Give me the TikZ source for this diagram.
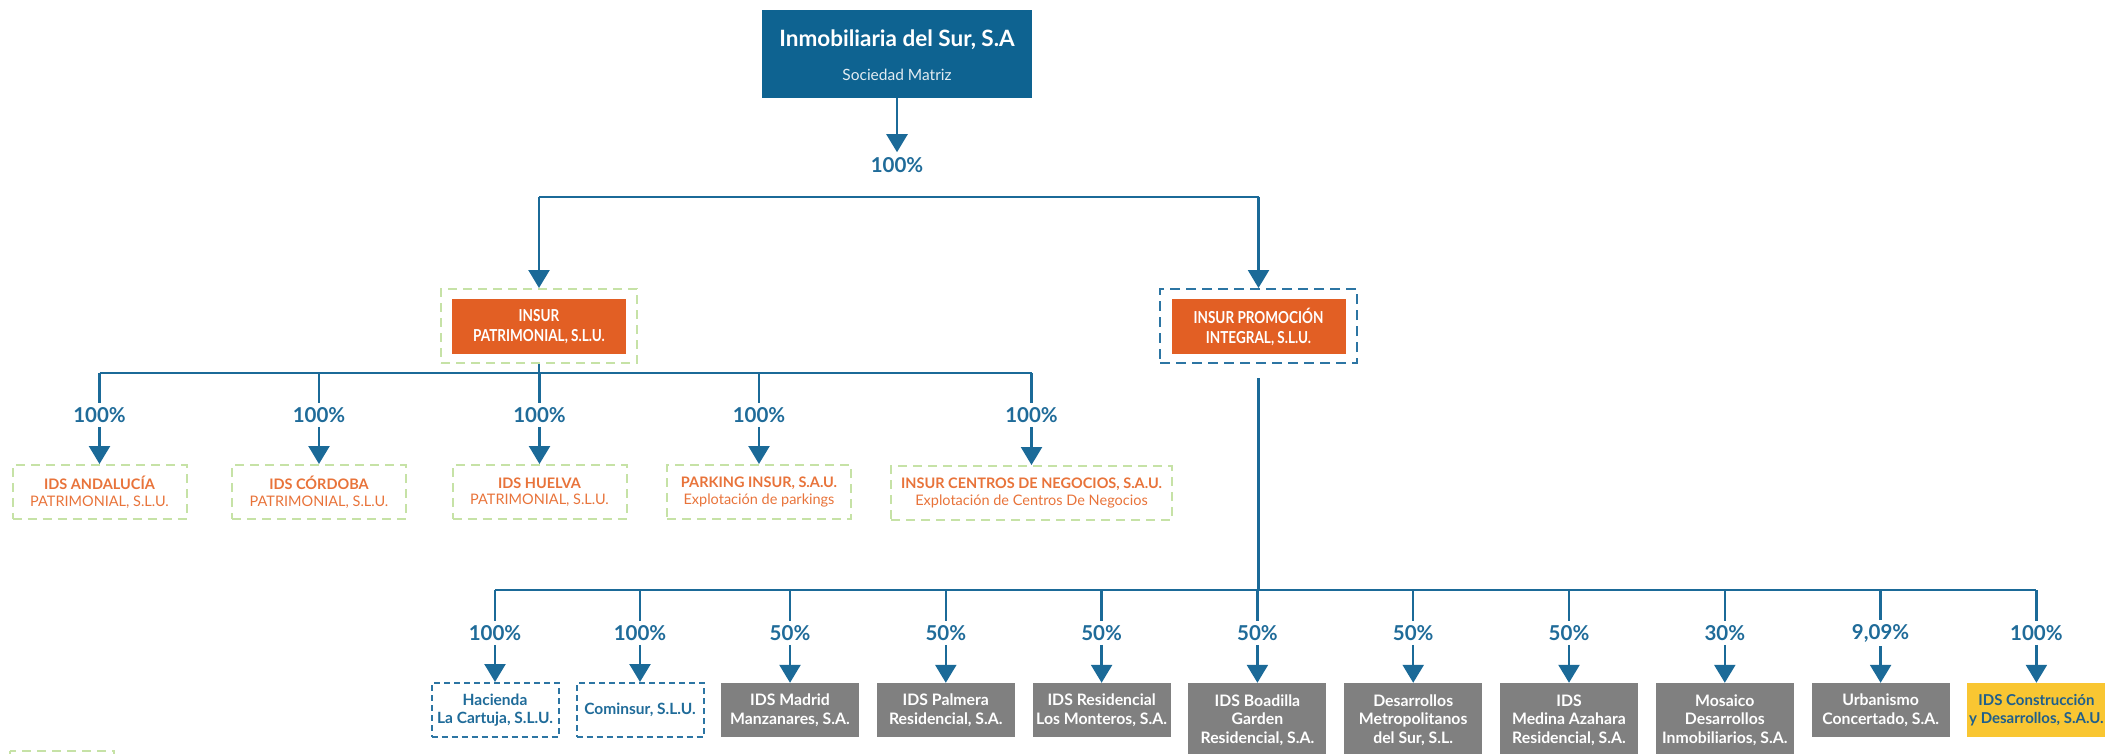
\documentclass[tikz,border=0pt]{standalone}
\usepackage{fontspec}
\setmainfont{Lato}
\newfontfamily\cond[FakeStretch=0.82]{Lato}
\usetikzlibrary{arrows.meta}
\definecolor{topblue}{HTML}{0E6391}
\definecolor{lineblue}{HTML}{1B6A98}
\definecolor{pctblue}{HTML}{1F6B99}
\definecolor{orangebox}{HTML}{E25F24}
\definecolor{orangetxt}{HTML}{E8733A}
\definecolor{greendash}{HTML}{C6E2A6}
\definecolor{bluedash}{HTML}{2C75A3}
\definecolor{greybox}{HTML}{808080}
\definecolor{yellowbox}{HTML}{F9C632}
\definecolor{yellowtxt}{HTML}{1F5F8C}
\begin{document}
\begin{tikzpicture}[x=1pt,y=-1pt,
  conn/.style={draw=lineblue, line width=2.4pt},
  arr/.style={conn, -{Triangle[width=21pt,length=18pt]}},
  pct/.style={text=pctblue, font=\bfseries\fontsize{20.5}{20}\selectfont, inner sep=4pt},
  gframe/.style={draw=greendash, line width=2pt, dash pattern=on 9pt off 6pt, minimum height=54pt, inner sep=0pt, align=center, text=orangetxt, font=\fontsize{14.5}{16.5}\selectfont},
  bframe/.style={draw=bluedash, line width=2pt, dash pattern=on 10pt off 6pt, minimum width=197pt, minimum height=74pt, inner sep=0pt},
  obox/.style={fill=orangebox, text=white, minimum width=174pt, minimum height=55pt, inner sep=0pt, align=center, font=\cond\bfseries\fontsize{16.5}{20}\selectfont},
  hbox/.style={draw=bluedash, line width=2pt, dash pattern=on 6pt off 4pt, minimum width=127pt, minimum height=54pt, inner sep=0pt, align=center, text=pctblue, font=\bfseries\fontsize{15.5}{18}\selectfont},
  gbox/.style={fill=greybox, text=white, minimum width=138pt, minimum height=54pt, inner sep=0pt, align=center, font=\bfseries\fontsize{15.8}{18.5}\selectfont},
  tallbox/.style={gbox, minimum height=74pt},
  ybox/.style={gbox, fill=yellowbox, text=yellowtxt}
]
\useasboundingbox (0,0) rectangle (2116,754);
\clip (0,0) rectangle (2116,754);

% ---------- top ----------
\node[fill=topblue, minimum width=270pt, minimum height=88pt, inner sep=0pt] (top) at (897,54) {};
\node[text=white, font=\bfseries\fontsize{22.5}{24}\selectfont, inner sep=0pt] (topT) at (897,40) {Inmobiliaria del Sur, S.A};
\node[text=white!88!topblue, font=\fontsize{15.5}{17}\selectfont, inner sep=0pt] (topS) at (897,75) {Sociedad Matriz};
\node[pct] (p0) at (897,165) {100\%};
\draw[arr, shorten >=1pt] (top.south) -- (p0.north);

% ---------- level 2 ----------
\node[draw=greendash, line width=2pt, dash pattern=on 9pt off 6pt, minimum width=196pt, minimum height=74pt, inner sep=0pt] (patF) at (539,326) {};
\node[obox] (pat) at (539,326.5) {INSUR\\PATRIMONIAL, S.L.U.};
\node[bframe] (proF) at (1258.5,326) {};
\node[obox] (pro) at (1258.5,326.5) {INSUR PROMOCIÓN\\INTEGRAL, S.L.U.};
\coordinate (h1l) at (539,197);
\coordinate (h1r) at (1258.5,197);
\draw[conn] (h1l) -- (h1r);
\draw[arr] (h1l) -- (patF.north);
\draw[arr] (h1r) -- (proF.north);

% ---------- level 3 (patrimonial) ----------
\coordinate (h2) at (539,373);
\draw[conn] (patF.south) -- (h2);
\coordinate (h2a) at (99.5,373);
\coordinate (h2e) at (1031.5,373);
\draw[conn] (h2a) -- (h2e);

\node[gframe, minimum width=174pt] (ga) at (99.5,492) {\textbf{IDS ANDALUCÍA}\\PATRIMONIAL, S.L.U.};
\node[gframe, minimum width=174pt] (gb) at (319,492) {\textbf{IDS CÓRDOBA}\\PATRIMONIAL, S.L.U.};
\node[gframe, minimum width=174pt] (gc) at (539.5,492) {\textbf{IDS HUELVA}\\PATRIMONIAL, S.L.U.};
\node[gframe, minimum width=184pt] (gd) at (759,492) {\textbf{PARKING INSUR, S.A.U.}\\Explotación de parkings};
\node[gframe, minimum width=281pt] (ge) at (1031.5,493) {\textbf{INSUR CENTROS DE NEGOCIOS, S.A.U.}\\Explotación de Centros De Negocios};

\foreach \n/\x in {a/99.5, b/319, c/539.5, d/759, e/1031.5}{
  \coordinate (t\n) at (\x,373);
  \node[pct] (q\n) at (\x,415) {100\%};
  \draw[conn] (t\n) -- (q\n.north);
  \draw[arr] (q\n.south) -- (g\n.north);
}

% ---------- level 3 (promocion) ----------
\coordinate (h3) at (1258.5,590);
\draw[conn] ([yshift=-14pt]proF.south) -- (h3);
\coordinate (h3a) at (495,590);
\coordinate (h3e) at (2036.4,590);
\draw[conn] (h3a) -- (h3e);

\node[hbox] (b1) at (495,710) {Hacienda\\La Cartuja, S.L.U.};
\node[hbox] (b2) at (640,710) {Cominsur, S.L.U.};
\node[gbox] (b3) at (790,710) {IDS Madrid\\Manzanares, S.A.};
\node[gbox] (b4) at (945.8,710) {IDS Palmera\\Residencial, S.A.};
\node[gbox] (b5) at (1101.6,710) {IDS Residencial\\Los Monteros, S.A.};
\node[tallbox] (b6) at (1257.4,720) {IDS Boadilla\\Garden\\Residencial, S.A.};
\node[tallbox] (b7) at (1413.2,720) {Desarrollos\\Metropolitanos\\del Sur, S.L.};
\node[tallbox] (b8) at (1569,720) {IDS\\Medina Azahara\\Residencial, S.A.};
\node[tallbox] (b9) at (1724.8,720) {Mosaico\\Desarrollos\\Inmobiliarios, S.A.};
\node[gbox] (b10) at (1880.6,710) {Urbanismo\\Concertado, S.A.};
\node[ybox, font=\bfseries\fontsize{15}{18.5}\selectfont] (b11) at (2036.4,710) {IDS Construcción\\y Desarrollos, S.A.U.};

\foreach \i/\x/\p in {1/495/100, 2/640/100, 3/790/50, 4/945.8/50, 5/1101.6/50, 6/1257.4/50, 7/1413.2/50, 8/1569/50, 9/1724.8/30, 10/1880.6/{9,09}, 11/2036.4/100}{
  \coordinate (s\i) at (\x,590);
  \node[pct] (r\i) at (\x,633) {\p\%};
  \draw[conn] (s\i) -- (r\i.north);
  \draw[arr] (r\i.south) -- (b\i.north);
}

% ---------- legend (cut off) ----------
\draw[draw=greendash, line width=2pt, dash pattern=on 9pt off 6pt] (10,751) rectangle (114,800);
\end{tikzpicture}
\end{document}
